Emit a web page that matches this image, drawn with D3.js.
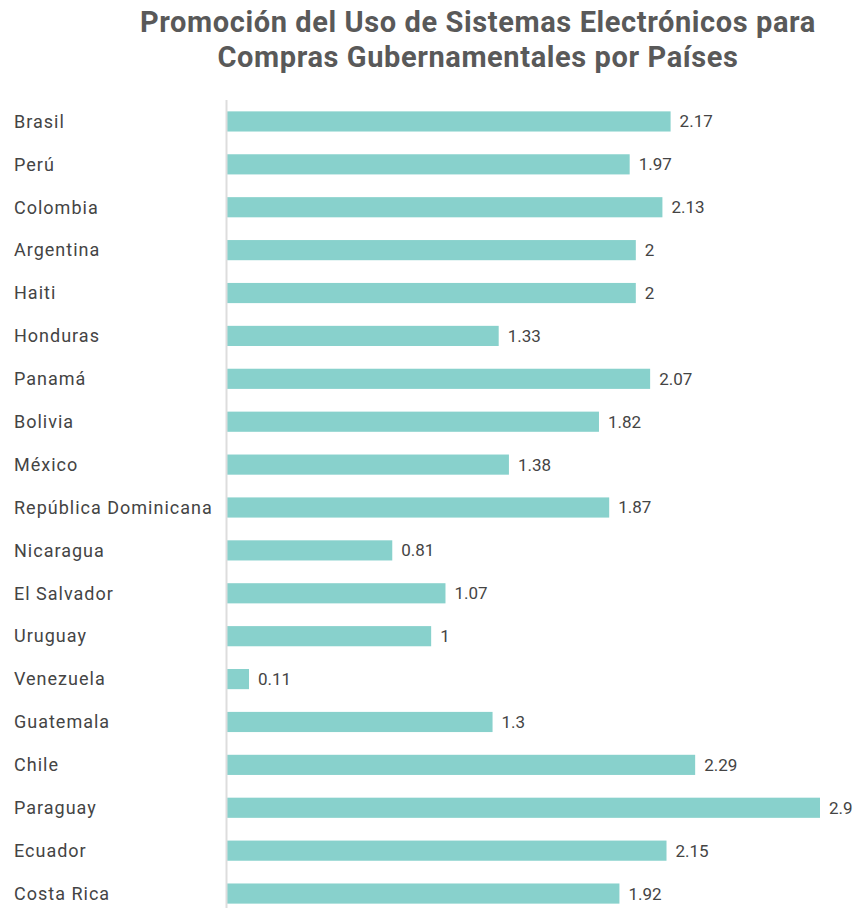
<!DOCTYPE html>
<html><head><meta charset="utf-8">
<script src="https://cdn.jsdelivr.net/npm/d3@7"></script>
<style>body{margin:0;background:#fff;} svg{display:block;font-family:Roboto,"Noto Sans",sans-serif;}</style>
</head><body>
<script>
const categories = ["Brasil","Perú","Colombia","Argentina","Haiti","Honduras","Panamá","Bolivia","México","República Dominicana","Nicaragua","El Salvador","Uruguay","Venezuela","Guatemala","Chile","Paraguay","Ecuador","Costa Rica"];
const values = [2.17,1.97,2.13,2,2,1.33,2.07,1.82,1.38,1.87,0.81,1.07,1,0.11,1.3,2.29,2.9,2.15,1.92];
const titleLines = ["Promoción del Uso de Sistemas Electrónicos para","Compras Gubernamentales por Países"];

const W = 855, H = 909;
const svg = d3.select("body").append("svg").attr("width", W).attr("height", H);

svg.append("g").selectAll("text").data(titleLines).join("text")
  .attr("x", 478).attr("y", (d,i) => 32 + i*35)
  .attr("text-anchor","middle").attr("font-size", 29).attr("font-weight", 700)
  .attr("letter-spacing", 0.6)
  .attr("fill", "#595959").text(d => d);

const x0 = 226.5;
const x = d3.scaleLinear().domain([0, 2.9]).range([x0, 820]);
const y = d3.scaleBand().domain(categories).range([100, 915]).paddingInner(0.53).paddingOuter(0.265);

svg.append("g").selectAll("rect").data(categories).join("rect")
  .attr("x", x(0)).attr("y", d => y(d))
  .attr("width", (d,i) => x(values[i]) - x(0)).attr("height", y.bandwidth())
  .attr("fill", "#88d1cc");

svg.append("line").attr("x1", x0).attr("x2", x0).attr("y1", 100).attr("y2", 908)
  .attr("stroke", "#dddddd").attr("stroke-width", 2);

svg.append("g").selectAll("text").data(categories).join("text")
  .attr("x", 14).attr("y", d => y(d) + y.bandwidth()/2).attr("dy", "0.35em")
  .attr("font-size", 18).attr("letter-spacing", 1).attr("fill", "#444").text(d => d);

svg.append("g").selectAll("text").data(categories).join("text")
  .attr("x", (d,i) => x(values[i]) + 9).attr("y", d => y(d) + y.bandwidth()/2).attr("dy", "0.35em")
  .attr("font-size", 17).attr("fill", "#444").text((d,i) => values[i]);
</script>
</body></html>
